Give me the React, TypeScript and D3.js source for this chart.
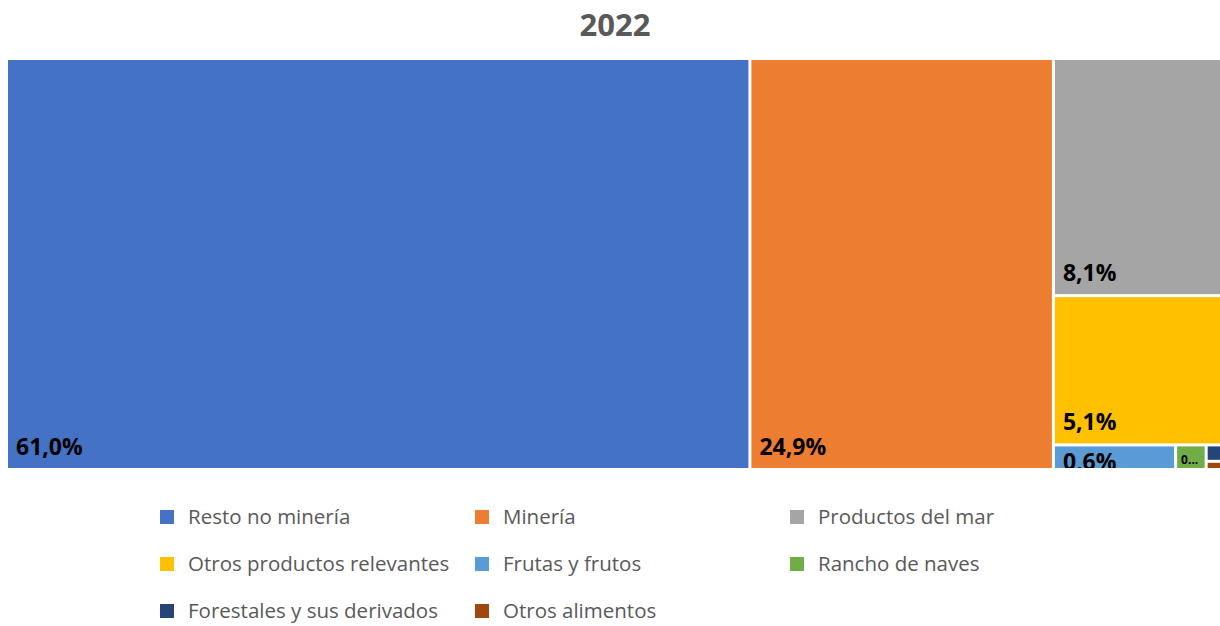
import React from 'react';
import * as d3 from 'd3';

// categories, in the order of the legend
const categories = [
  'Resto no minería',
  'Minería',
  'Productos del mar',
  'Otros productos relevantes',
  'Frutas y frutos',
  'Rancho de naves',
  'Forestales y sus derivados',
  'Otros alimentos',
];
// share of total exports, %
const shares = [61.0, 24.9, 8.1, 5.1, 0.6, 0.15, 0.06, 0.03];
const colors = ['#4472C4', '#ED7D31', '#A5A5A5', '#FFC000', '#5B9BD5', '#70AD47', '#264478', '#9E480E'];
const title = '2022';

const W = 1220, H = 626;
const plot = { x0: 8, y0: 60, x1: 1223, y1: 468 };

const fmt = (v) => v.toFixed(1).replace('.', ',') + '%';

export default function App() {
  const root = d3
    .hierarchy({ children: categories.map((c, i) => ({ name: c, value: shares[i], i })) })
    .sum((d) => d.value || 0);

  d3.treemap()
    .tile(d3.treemapSquarify)
    .size([plot.x1 - plot.x0, plot.y1 - plot.y0])
    .paddingInner(3)
    .round(false)(root);

  const leaves = root.leaves();

  // legend grid: 3 columns
  const legendX = [160, 475, 790];
  const legendY = [517, 564, 611];

  return (
    <svg width={W} height={H} style={{ position: 'absolute', left: 0, top: 0, background: '#fff' }}>
      <defs>
        {leaves.map((l, k) => (
          <clipPath id={'clip' + k} key={k}>
            <rect x={plot.x0 + l.x0} y={plot.y0 + l.y0} width={l.x1 - l.x0} height={l.y1 - l.y0} />
          </clipPath>
        ))}
      </defs>
      <text x={615} y={36} textAnchor="middle" fontFamily="Open Sans" fontWeight="bold" fontSize={31} fill="#595959">
        {title}
      </text>
      {leaves.map((l, k) => {
        const x = plot.x0 + l.x0, y = plot.y0 + l.y0;
        const w = l.x1 - l.x0, h = l.y1 - l.y0;
        let label = null;
        if (w >= 60) {
          const by = Math.max(y + h - 13, y + 24);
          label = (
            <text x={x + 8} y={by} fontFamily="Open Sans" fontWeight="bold" fontSize={23} fill="#000" clipPath={`url(#clip${k})`}>
              {fmt(l.data.value)}
            </text>
          );
        } else if (w >= 20) {
          label = (
            <text x={x + 4} y={y + 18} fontFamily="Open Sans" fontWeight="bold" fontSize={12} fill="#000" clipPath={`url(#clip${k})`}>
              {fmt(l.data.value).slice(0, 1) + '...'}
            </text>
          );
        }
        return (
          <g key={k}>
            <rect x={x} y={y} width={w} height={h} fill={colors[l.data.i]} />
            {label}
          </g>
        );
      })}
      {categories.map((c, i) => {
        const lx = legendX[i % 3], ly = legendY[Math.floor(i / 3)];
        return (
          <g key={c}>
            <rect x={lx} y={ly - 7} width={14} height={14} fill={colors[i]} />
            <text x={lx + 28} y={ly + 7} fontFamily="Open Sans" fontSize={20.5} fill="#595959">
              {c}
            </text>
          </g>
        );
      })}
    </svg>
  );
}
